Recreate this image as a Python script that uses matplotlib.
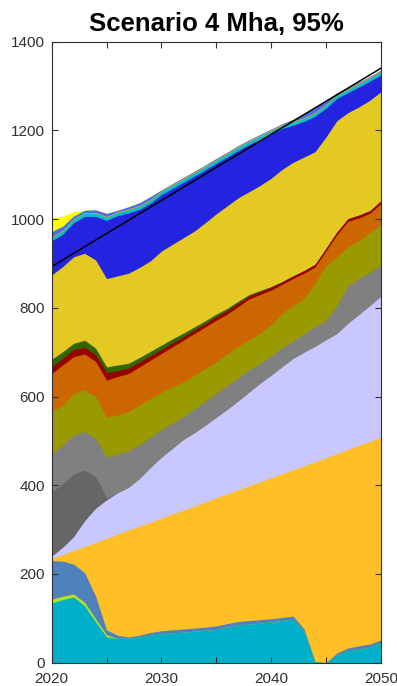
import numpy as np
import matplotlib
matplotlib.use("Agg")
import matplotlib.pyplot as plt
from matplotlib.ticker import MultipleLocator

plt.rcParams['font.family'] = ['Liberation Sans', 'DejaVu Sans']

years = np.arange(2020, 2051)

# Upper edge of each stacked band (Mha), listed from the bottom band upwards
edge_teal = [135, 142, 148, 128, 92, 58, 55, 55, 58, 62,
             65, 67, 69, 71, 73, 75, 80, 85, 87, 89,
             92, 95, 98, 70, 2, 0, 17, 27, 30, 35, 44]
edge_lime = [143, 150, 155, 136, 99, 63, 55, 55, 58, 62,
             65, 67, 69, 71, 73, 75, 80, 85, 87, 89,
             92, 95, 98, 70, 2, 0, 17, 27, 30, 35, 44]
edge_steel = [230, 229, 222, 203, 150, 74, 62, 58, 62, 68,
              72, 74, 76, 78, 80, 83, 88, 93, 95, 97,
              99, 102, 105, 76, 3, 0, 22, 33, 38, 42, 51]
edge_amber = [235, 244, 253, 262, 271, 280, 290, 299, 308, 317,
              326, 335, 344, 353, 362, 372, 381, 390, 399, 408,
              417, 426, 435, 444, 453, 462, 472, 481, 490, 499, 508]
edge_lavender = [240, 260, 284, 320, 348, 367, 383, 395, 415, 440,
                 463, 483, 503, 518, 535, 553, 571, 590, 610, 630,
                 648, 667, 686, 700, 713, 728, 742, 765, 785, 805, 826]
edge_charcoal = [385, 404, 425, 434, 420, 372, 383, 395, 415, 440,
                 463, 483, 503, 518, 535, 553, 571, 590, 610, 630,
                 648, 667, 686, 700, 713, 728, 742, 765, 785, 805, 826]
edge_gray = [470, 491, 513, 521, 506, 463, 470, 478, 491, 509,
             525, 540, 555, 572, 590, 607, 625, 643, 660, 675,
             692, 710, 725, 742, 758, 772, 805, 850, 866, 880, 896]
edge_olive = [566, 581, 607, 615, 600, 553, 558, 566, 581, 596,
              610, 622, 633, 648, 663, 679, 696, 713, 728, 743,
              762, 788, 805, 822, 855, 895, 915, 937, 952, 970, 986]
edge_rust = [652, 671, 690, 696, 679, 637, 645, 652, 667, 682,
             697, 712, 727, 742, 757, 772, 786, 803, 820, 830,
             840, 853, 866, 878, 892, 928, 965, 995, 1003, 1013, 1035]
edge_maroon = [667, 686, 706, 711, 694, 654, 658, 664, 678, 692,
               706, 721, 735, 750, 765, 780, 794, 811, 827, 837,
               847, 859, 872, 884, 898, 934, 971, 1001, 1009, 1019, 1041]
edge_forest = [684, 701, 720, 727, 709, 667, 671, 675, 688, 702,
               716, 730, 743, 757, 771, 786, 799, 815, 830, 839,
               848, 859, 872, 884, 898, 934, 971, 1001, 1009, 1019, 1041]
edge_gold = [874, 893, 915, 923, 908, 866, 872, 878, 891, 906,
             928, 943, 958, 973, 992, 1012, 1030, 1048, 1062, 1076,
             1092, 1112, 1128, 1140, 1152, 1185, 1222, 1240, 1253, 1268, 1287]
edge_blue = [951, 966, 992, 1006, 1006, 997, 1008, 1014, 1022, 1036,
             1055, 1069, 1083, 1097, 1111, 1126, 1140, 1155, 1168, 1180,
             1192, 1204, 1212, 1220, 1232, 1250, 1272, 1285, 1298, 1311, 1325]
edge_aqua = [958, 973, 999, 1013, 1013, 1004, 1015, 1021, 1029, 1043,
             1062, 1076, 1090, 1104, 1118, 1133, 1147, 1162, 1175, 1187,
             1199, 1211, 1219, 1227, 1239, 1257, 1279, 1292, 1305, 1318, 1332]
edge_tangerine = [960, 975, 1001, 1015, 1015, 1006, 1017, 1023, 1031, 1045,
                  1064, 1078, 1092, 1106, 1120, 1135, 1149, 1164, 1177, 1189,
                  1201, 1213, 1221, 1229, 1241, 1259, 1281, 1294, 1307, 1320, 1334]
edge_periwinkle = [972, 984, 1007, 1020, 1021, 1013, 1020, 1028, 1037, 1051,
                   1066, 1080, 1094, 1108, 1122, 1137, 1151, 1166, 1179, 1191,
                   1203, 1215, 1225, 1238, 1253, 1268, 1285, 1296, 1309, 1322, 1336]
edge_yellow = [1002, 1007, 1017, 1020, 1021, 1013, 1020, 1028, 1037, 1051,
               1066, 1080, 1094, 1108, 1122, 1137, 1151, 1166, 1179, 1191,
               1203, 1215, 1225, 1238, 1253, 1268, 1285, 1296, 1309, 1322, 1336]

# Straight demand line
target_years = [2020, 2050]
target_values = [893, 1340]

bands = [
    (edge_teal, '#00afc8'),
    (edge_lime, '#b4e31c'),
    (edge_steel, '#4f81bd'),
    (edge_amber, '#ffbf27'),
    (edge_lavender, '#c8c8ff'),
    (edge_charcoal, '#666666'),
    (edge_gray, '#808080'),
    (edge_olive, '#999900'),
    (edge_rust, '#cc6600'),
    (edge_maroon, '#990000'),
    (edge_forest, '#336600'),
    (edge_gold, '#e3c922'),
    (edge_blue, '#2424e0'),
    (edge_aqua, '#00c0c8'),
    (edge_tangerine, '#f0a030'),
    (edge_periwinkle, '#4c6cf0'),
    (edge_yellow, '#ffff00'),
]

fig = plt.figure(figsize=(3.97, 6.86), dpi=100)
ax = fig.add_axes([0.1302, 0.034, 0.829, 0.9052])

# paint from the top band downwards, each filled to zero, so neighbouring bands never leave seams
for edge, color in reversed(bands):
    ax.fill_between(years, 0, edge, color=color, linewidth=0)

ax.plot(target_years, target_values, color='black', linewidth=1.1)

ax.set_xlim(2020, 2050)
ax.set_ylim(0, 1400)
ax.xaxis.set_major_locator(MultipleLocator(10))
ax.xaxis.set_minor_locator(MultipleLocator(5))
ax.yaxis.set_major_locator(MultipleLocator(200))

axis_color = '#303030'
ax.tick_params(axis='both', which='both', direction='in', length=4.5, width=0.8,
               top=True, right=True, colors=axis_color, labelsize=11)
ax.tick_params(axis='x', pad=7)
ax.tick_params(axis='y', pad=5)
for sp in ax.spines.values():
    sp.set_color(axis_color)
    sp.set_linewidth(0.8)

ax.set_title('Scenario 4 Mha, 95%', fontsize=18.5, fontweight='bold', pad=8)

fig.savefig('out.png', dpi=100)
